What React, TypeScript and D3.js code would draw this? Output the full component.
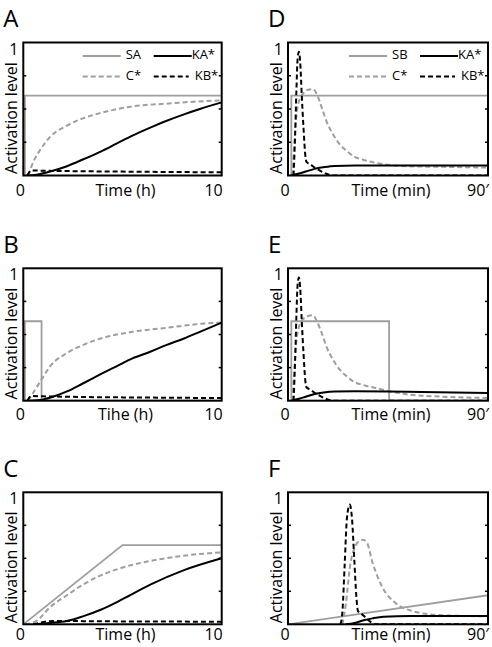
import React from "react";
import * as d3 from "d3";

// ---------- data ----------
// Panel A (time in h)
const A_S_t = [0, 0.08, 0.08, 10];
const A_S_v = [0, 0, 0.6, 0.6];
const A_C_t = [0.25, 0.5, 0.84, 1.35, 2.2, 3.0, 3.9, 5.5, 7.2, 8.6, 10];
const A_C_v = [0, 0.1, 0.19, 0.29, 0.375, 0.43, 0.47, 0.52, 0.54, 0.555, 0.565];
const A_KA_t = [0.3, 0.8, 1.35, 2.2, 3.0, 3.9, 4.7, 5.5, 6.4, 7.2, 8.1, 8.9, 10];
const A_KA_v = [0, 0.01, 0.03, 0.07, 0.12, 0.18, 0.24, 0.3, 0.36, 0.41, 0.46, 0.5, 0.55];
const A_KB_t = [0.2, 0.4, 1, 3, 6, 10];
const A_KB_v = [0, 0.038, 0.036, 0.032, 0.028, 0.024];

// Panel B (time in h)
const B_S_t = [0, 0.08, 0.08, 0.92, 0.92, 10];
const B_S_v = [0, 0, 0.6, 0.6, 0, 0];
const B_C_t = [0.25, 0.5, 0.92, 1.35, 2.2, 3.0, 3.9, 5.5, 7.2, 8.9, 10];
const B_C_v = [0, 0.06, 0.16, 0.26, 0.36, 0.42, 0.47, 0.52, 0.55, 0.58, 0.59];
const B_KA_t = [0.3, 1.0, 1.5, 2.2, 3.0, 3.9, 4.7, 5.5, 6.4, 7.2, 8.1, 8.9, 10];
const B_KA_v = [0, 0.01, 0.03, 0.07, 0.13, 0.2, 0.26, 0.32, 0.37, 0.42, 0.47, 0.52, 0.59];
const B_KB_t = [0.2, 0.4, 1, 3, 6, 10];
const B_KB_v = [0, 0.035, 0.033, 0.028, 0.024, 0.02];

// Panel C (time in h)
const C_S_t = [0, 5, 10];
const C_S_v = [0, 0.6, 0.6];
const C_C_t = [0.1, 0.7, 1.35, 2.2, 3.0, 3.9, 5.0, 6.4, 8.1, 10];
const C_C_v = [0, 0.03, 0.13, 0.22, 0.3, 0.37, 0.43, 0.48, 0.52, 0.545];
const C_KA_t = [0.5, 1.35, 2.2, 3.0, 3.9, 5.0, 6.4, 8.1, 10];
const C_KA_v = [0, 0.01, 0.025, 0.06, 0.11, 0.19, 0.3, 0.41, 0.5];
const C_KB_t = [0.5, 1.5, 3, 6, 10];
const C_KB_v = [0, 0.025, 0.024, 0.021, 0.02];

// Panel D (time in min)
const D_S_t = [0, 1.5, 1.5, 90];
const D_S_v = [0, 0, 0.6, 0.6];
const D_C_t = [1.8, 2.5, 3.5, 4.8, 7, 9, 11.2, 13, 15.4, 17.5, 19.9, 23, 26, 30, 33.5, 41, 53, 70, 90];
const D_C_v = [0, 0.15, 0.4, 0.55, 0.62, 0.645, 0.65, 0.61, 0.5, 0.4, 0.32, 0.24, 0.19, 0.14, 0.12, 0.09, 0.07, 0.065, 0.06];
const D_KA_t = [1.5, 5, 8, 12, 16, 21, 30, 50, 90];
const D_KA_v = [0, 0.015, 0.03, 0.05, 0.062, 0.072, 0.075, 0.075, 0.075];
const D_KB_t = [2.5, 3.2, 3.8, 4.3, 4.9, 5.5, 6.2, 7.0, 7.8, 8.4, 10, 12, 14, 17, 20, 90];
const D_KB_v = [0, 0.3, 0.65, 0.87, 0.93, 0.85, 0.6, 0.35, 0.15, 0.1, 0.085, 0.06, 0.04, 0.015, 0, 0];

// Panel E (time in min)
const E_S_t = [0, 1.5, 1.5, 45.5, 45.5, 90];
const E_S_v = [0, 0, 0.6, 0.6, 0, 0];
const E_C_t = [1.8, 2.5, 3.5, 4.8, 7, 9, 11.2, 13, 15.4, 17.5, 19.9, 23, 26, 30, 33.5, 41, 46, 55, 70, 90];
const E_C_v = [0, 0.15, 0.4, 0.55, 0.62, 0.64, 0.645, 0.6, 0.5, 0.4, 0.32, 0.24, 0.19, 0.14, 0.12, 0.09, 0.07, 0.045, 0.03, 0.02];
const E_KA_t = [1.5, 5, 8, 12, 16, 21, 30, 45, 60, 90];
const E_KA_v = [0, 0.015, 0.03, 0.05, 0.062, 0.07, 0.072, 0.07, 0.065, 0.058];
const E_KB_t = [2.5, 3.2, 3.8, 4.3, 4.9, 5.5, 6.2, 7.0, 7.8, 8.4, 10, 12, 14, 17, 20, 90];
const E_KB_v = [0, 0.3, 0.65, 0.87, 0.93, 0.85, 0.6, 0.35, 0.15, 0.1, 0.085, 0.06, 0.04, 0.015, 0, 0];

// Panel F (time in min)
const F_S_t = [0, 90];
const F_S_v = [0, 0.22];
const F_C_t = [24.5, 26, 28, 30, 32, 33.8, 35.5, 38, 42.5, 48.5, 56, 68, 90];
const F_C_v = [0, 0.15, 0.45, 0.58, 0.63, 0.64, 0.62, 0.47, 0.28, 0.16, 0.1, 0.07, 0.06];
const F_KA_t = [26, 30, 34, 38, 43, 55, 90];
const F_KA_v = [0, 0.01, 0.03, 0.045, 0.058, 0.063, 0.063];
const F_KB_t = [23.6, 24.5, 25.5, 26.5, 27.8, 28.8, 29.8, 30.8, 31.5, 33, 35, 37, 39, 90];
const F_KB_v = [0, 0.1, 0.45, 0.8, 0.907, 0.8, 0.5, 0.2, 0.1, 0.08, 0.05, 0.02, 0, 0];

const yTicks = [0.25, 0.5, 0.75];
const legendNamesLeft = ["SA", "C*", "KA*", "KB*"];
const legendNamesRight = ["SB", "C*", "KA*", "KB*"];

// ---------- styles ----------
const GRAY = "#9e9e9e";
const FONT = "'Open Sans', 'DejaVu Sans', sans-serif";

type Pts = { t: number[]; v: number[] };
type PanelProps = {
  letter: string;
  x0: number; x1: number; y0: number; y1: number;
  labelDy: number;
  tMax: number;
  xLabel: string;
  xEnd: string;
  legend?: string[];
  S: Pts; C: Pts; KA: Pts; KB: Pts;
};

function zip(p: Pts): [number, number][] {
  return p.t.map((t, i) => [t, p.v[i]]);
}

function Panel(props: PanelProps) {
  const { letter, x0, x1, y0, y1, labelDy, tMax, xLabel, xEnd, legend, S, C, KA, KB } = props;
  const x = d3.scaleLinear().domain([0, tMax]).range([x0, x1]);
  const y = d3.scaleLinear().domain([0, 1]).range([y1, y0]);
  const linLine = d3.line<[number, number]>().x(d => x(d[0])).y(d => y(d[1])).curve(d3.curveLinear);
  const smooth = d3.line<[number, number]>().x(d => x(d[0])).y(d => y(d[1])).curve(d3.curveMonotoneX);
  const clipId = "clip" + letter;
  const midX = (x0 + x1) / 2;
  const midY = (y0 + y1) / 2;
  return (
    <g>
      <defs>
        <clipPath id={clipId}>
          <rect x={x0} y={y0 - 5} width={x1 - x0} height={y1 - y0 + 5} />
        </clipPath>
      </defs>
      <text x={x0 - 20} y={y0 - 15.5} fontSize={24} fontFamily={FONT}>{letter}</text>
      <g clipPath={`url(#${clipId})`} fill="none">
        <path d={linLine(zip(S)) || ""} stroke={GRAY} strokeWidth={1.8} />
        <path d={smooth(zip(C)) || ""} stroke={GRAY} strokeWidth={2} strokeDasharray="5,3" />
        <path d={smooth(zip(KA)) || ""} stroke="#000" strokeWidth={2} />
        <path d={smooth(zip(KB)) || ""} stroke="#000" strokeWidth={2} strokeDasharray="5,3" />
      </g>
      {yTicks.map(v => (
        <g key={v}>
          <line x1={x0} x2={x0 + 3} y1={y(v)} y2={y(v)} stroke="#000" strokeWidth={1.5} />
          <line x1={x1} x2={x1 - 3} y1={y(v)} y2={y(v)} stroke="#000" strokeWidth={1.5} />
        </g>
      ))}
      <rect x={x0} y={y0} width={x1 - x0} height={y1 - y0} fill="none" stroke="#000" strokeWidth={2} />
      <text x={x0 - 5} y={y0 + 12} fontSize={16} fontFamily={FONT} textAnchor="end">1</text>
      <text x={x0 - 3} y={y1 + labelDy} fontSize={16} fontFamily={FONT} textAnchor="middle">0</text>
      <text x={x1 + 1} y={y1 + labelDy} fontSize={16} fontFamily={FONT} textAnchor="end">{xEnd}</text>
      <text x={midX + 3} y={y1 + labelDy} fontSize={16} fontFamily={FONT} textAnchor="middle">{xLabel}</text>
      <text transform={`translate(${x0 - 6.5},${midY + 9}) rotate(-90)`} fontSize={16} fontFamily={FONT} textAnchor="middle">Activation level</text>
      {legend && (
        <g fontFamily={FONT} fontSize={13}>
          <line x1={x1 - 139} x2={x1 - 101} y1={y0 + 13.5} y2={y0 + 13.5} stroke={GRAY} strokeWidth={1.8} />
          <text x={x1 - 96} y={y0 + 16.5}>{legend[0]}</text>
          <line x1={x1 - 68} x2={x1 - 30} y1={y0 + 13.5} y2={y0 + 13.5} stroke="#000" strokeWidth={2} />
          <text x={x1 - 30} y={y0 + 16.5}>{legend[2]}</text>
          <line x1={x1 - 139} x2={x1 - 101} y1={y0 + 34} y2={y0 + 34} stroke={GRAY} strokeWidth={2} strokeDasharray="5,3" />
          <text x={x1 - 96} y={y0 + 37.5}>{legend[1]}</text>
          <line x1={x1 - 68} x2={x1 - 33} y1={y0 + 34} y2={y0 + 34} stroke="#000" strokeWidth={2} strokeDasharray="5,3" />
          <text x={x1 - 27} y={y0 + 37.5}>{legend[3]}</text>
        </g>
      )}
    </g>
  );
}

const LX0 = 23.3, LX1 = 221.7, RX0 = 288, RX1 = 488;
const ROWS: [number, number][] = [[42.5, 175.5], [268.3, 400.7], [492.3, 624.3]];
const LABEL_DY = [20, 19, 16];

export default function App() {
  return (
    <svg width={492} height={647} style={{ position: "absolute", left: 0, top: 0, background: "#fff" }}>
      <Panel letter="A" x0={LX0} x1={LX1} y0={ROWS[0][0]} y1={ROWS[0][1]} labelDy={LABEL_DY[0]} tMax={10} xLabel="Time (h)" xEnd="10"
        legend={legendNamesLeft}
        S={{ t: A_S_t, v: A_S_v }} C={{ t: A_C_t, v: A_C_v }} KA={{ t: A_KA_t, v: A_KA_v }} KB={{ t: A_KB_t, v: A_KB_v }} />
      <Panel letter="B" x0={LX0} x1={LX1} y0={ROWS[1][0]} y1={ROWS[1][1]} labelDy={LABEL_DY[1]} tMax={10} xLabel="Tihe (h)" xEnd="10"
        S={{ t: B_S_t, v: B_S_v }} C={{ t: B_C_t, v: B_C_v }} KA={{ t: B_KA_t, v: B_KA_v }} KB={{ t: B_KB_t, v: B_KB_v }} />
      <Panel letter="C" x0={LX0} x1={LX1} y0={ROWS[2][0]} y1={ROWS[2][1]} labelDy={LABEL_DY[2]} tMax={10} xLabel="Time (h)" xEnd="10"
        S={{ t: C_S_t, v: C_S_v }} C={{ t: C_C_t, v: C_C_v }} KA={{ t: C_KA_t, v: C_KA_v }} KB={{ t: C_KB_t, v: C_KB_v }} />
      <Panel letter="D" x0={RX0} x1={RX1} y0={ROWS[0][0]} y1={ROWS[0][1]} labelDy={LABEL_DY[0]} tMax={90} xLabel="Time (min)" xEnd="90′"
        legend={legendNamesRight}
        S={{ t: D_S_t, v: D_S_v }} C={{ t: D_C_t, v: D_C_v }} KA={{ t: D_KA_t, v: D_KA_v }} KB={{ t: D_KB_t, v: D_KB_v }} />
      <Panel letter="E" x0={RX0} x1={RX1} y0={ROWS[1][0]} y1={ROWS[1][1]} labelDy={LABEL_DY[1]} tMax={90} xLabel="Time (min)" xEnd="90′"
        S={{ t: E_S_t, v: E_S_v }} C={{ t: E_C_t, v: E_C_v }} KA={{ t: E_KA_t, v: E_KA_v }} KB={{ t: E_KB_t, v: E_KB_v }} />
      <Panel letter="F" x0={RX0} x1={RX1} y0={ROWS[2][0]} y1={ROWS[2][1]} labelDy={LABEL_DY[2]} tMax={90} xLabel="Time (min)" xEnd="90′"
        S={{ t: F_S_t, v: F_S_v }} C={{ t: F_C_t, v: F_C_v }} KA={{ t: F_KA_t, v: F_KA_v }} KB={{ t: F_KB_t, v: F_KB_v }} />
    </svg>
  );
}
